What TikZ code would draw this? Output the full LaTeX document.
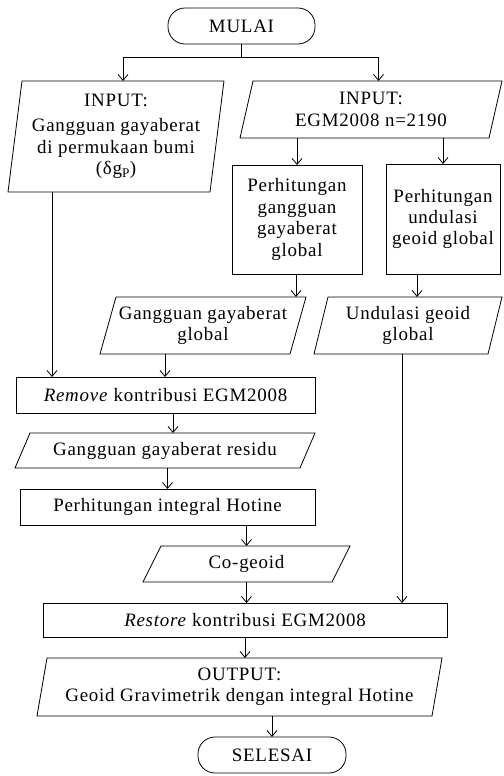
\documentclass[tikz,border=0pt]{standalone}
\usepackage{fontspec}
\setmainfont{Liberation Serif}[LetterSpace=4]
\usetikzlibrary{arrows.meta}
\begin{document}
\begin{tikzpicture}[x=1bp,y=-1bp,
  every node/.style={font=\fontsize{19}{21.5}\selectfont, align=center, inner sep=0pt, outer sep=0pt},
  ln/.style={line width=0.8bp},
  arr/.style={ln, -{Straight Barb[length=6bp,width=10bp]}},
  term/.style={draw, ln, rounded corners=17bp, minimum width=#1, minimum height=36bp},
  procbox/.style n args={2}{draw, ln, minimum width=#1, minimum height=#2},
  iobox/.style n args={2}{minimum width=#1, minimum height=#2}
]
\useasboundingbox (0,0) rectangle (504,776);

\node[term=147bp] (mulai) at (241.5,26) {MULAI};
\node[iobox={216bp}{111bp}] (inL) at (116,136.5) {INPUT:\\[4pt]Gangguan gayaberat\\di permukaan bumi\\(δg\textsubscript{P})};
\node[iobox={262bp}{57bp}] (inR) at (371,109.5) {INPUT:\\EGM2008 n=2190};
\node[procbox={130bp}{109bp}] (hitg) at (297,219.5) {Perhitungan\\gangguan\\gayaberat\\global};
\node[procbox={114bp}{110bp}] (hitn) at (443,219) {Perhitungan\\undulasi\\geoid global};
\node[iobox={206bp}{57bp}] (ggg) at (203,325.5) {Gangguan gayaberat\\global};
\node[iobox={188bp}{57bp}] (und) at (408,325.5) {Undulasi geoid\\global};
\node[procbox={299bp}{36bp}] (remove) at (165.5,395) {\textit{Remove} kontribusi EGM2008};
\node[iobox={300bp}{35bp}] (resid) at (165,450.5) {Gangguan gayaberat residu};
\node[procbox={295bp}{36bp}] (hotine) at (167.5,507) {Perhitungan integral Hotine};
\node[iobox={207bp}{36bp}] (cog) at (246.5,564) {Co-geoid};
\node[procbox={404bp}{34bp}] (restore) at (245,620) {\textit{Restore} kontribusi EGM2008};
\node[iobox={405bp}{58bp}] (out) at (239.5,687) {OUTPUT:\\Geoid Gravimetrik dengan integral Hotine};
\node[term=148bp] (selesai) at (272,755) {SELESAI};

\foreach \n/\s in {inL/14bp,inR/13bp,ggg/16bp,und/14bp,resid/15bp,cog/18bp,out/10bp}
  \draw[ln] ([xshift=\s]\n.north west) -- (\n.north east) -- ([xshift=-\s]\n.south east) -- (\n.south west) -- cycle;

\draw[arr] (mulai.south) -- ++(0,13) -| ([xshift=7.5bp]inR.north);
\draw[arr] (mulai.south) -- ++(0,13) -| ([xshift=7bp]inL.north);
\draw[arr] (hitg.north |- inR.south) -- (hitg.north);
\draw[arr] (hitn.north |- inR.south) -- (hitn.north);
\draw[arr] ([xshift=-1bp]hitg.south) -- ([xshift=-1bp]hitg.south |- ggg.north);
\draw[arr] ([xshift=-26bp]hitn.south) -- ([xshift=-26bp]hitn.south |- und.north);
\draw[arr] ([xshift=-64bp]inL.south) -- ([xshift=-64bp]inL.south |- remove.north);
\draw[arr] ([xshift=-38bp]ggg.south) -- ([xshift=-38bp]ggg.south |- remove.north);
\draw[arr] ([xshift=7.5bp]remove.south) -- ([xshift=7.5bp]remove.south |- resid.north);
\draw[arr] (hotine.north |- resid.south) -- (hotine.north);
\draw[arr] (cog.north |- hotine.south) -- (cog.north);
\draw[arr] (cog.south) -- (cog.south |- restore.north);
\draw[arr] ([xshift=-6bp]und.south) -- ([xshift=-6bp]und.south |- restore.north);
\draw[arr] (restore.south) -- (restore.south |- out.north);
\draw[arr] (selesai.north |- out.south) -- (selesai.north);
\end{tikzpicture}
\end{document}
